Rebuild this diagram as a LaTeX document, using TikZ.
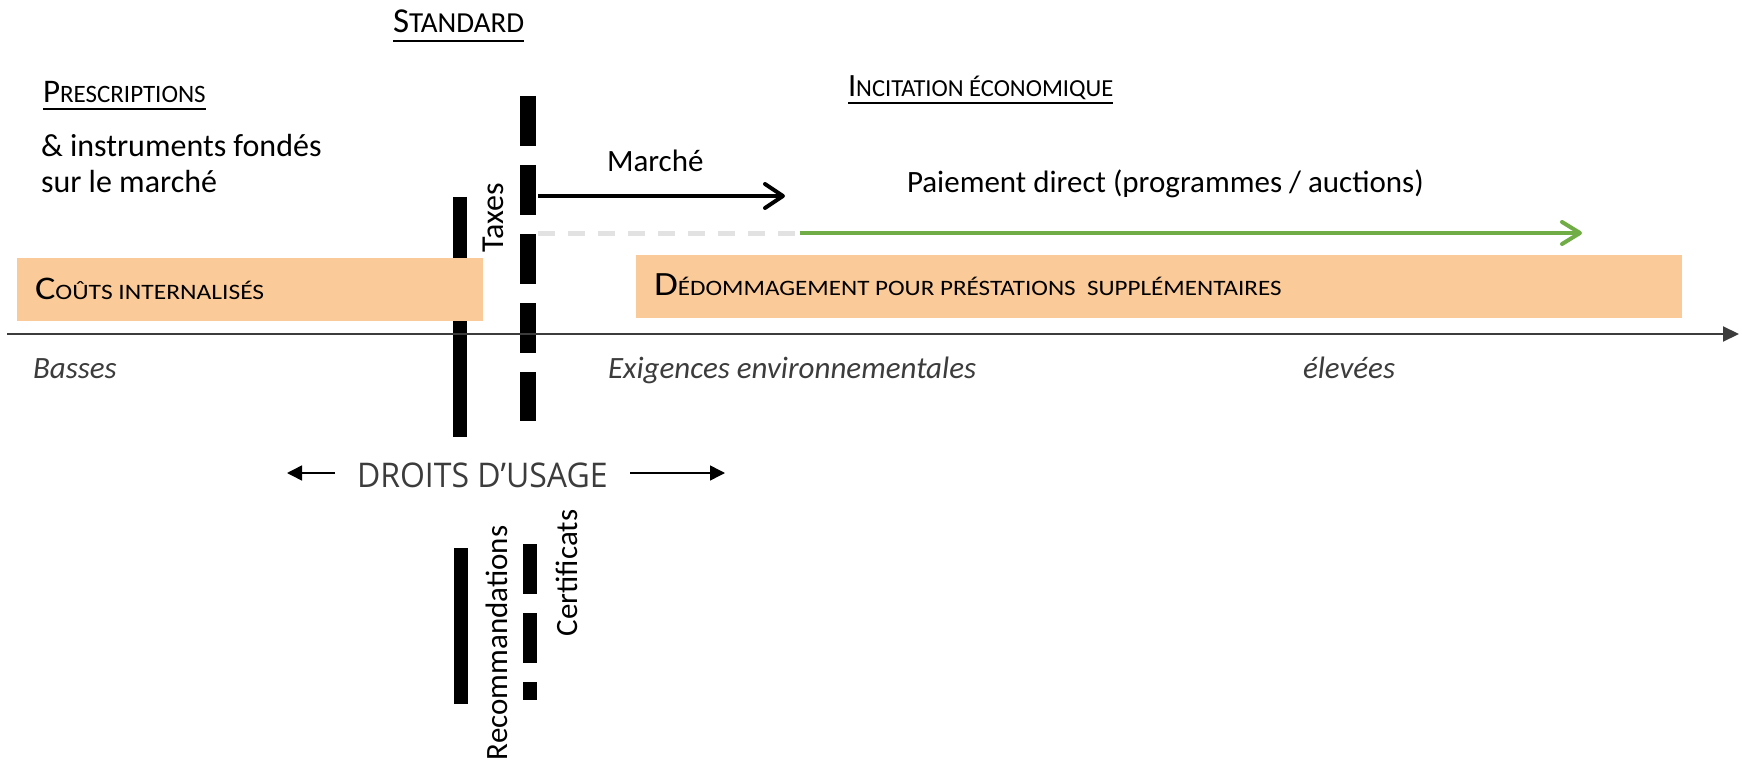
\documentclass[tikz,border=0pt]{standalone}
\usepackage{fontspec}
\setmainfont{Carlito}
\newfontfamily\osans{Open Sans}
\usetikzlibrary{arrows.meta}
\definecolor{peach}{RGB}{251,202,153}
\definecolor{grn}{RGB}{112,173,71}
\definecolor{dgray}{RGB}{60,60,60}
\definecolor{lgray}{RGB}{226,226,226}
\newcommand{\fs}[1]{\fontsize{#1}{#1}\selectfont}
\newcommand{\mysc}[4]{{\fs{#1}#3}{\fs{#2}#4}}
\begin{document}
\begin{tikzpicture}[x=1pt,y=-1pt,
  txt/.style={inner sep=0pt, outer sep=0pt, anchor=base west},
  body/.style={txt, font=\fs{31}},
  rot/.style={inner sep=0pt, outer sep=0pt, anchor=base, rotate=90, font=\fs{31}},
  ital/.style={txt, font=\fs{31}\itshape, text=dgray},
  sbox/.style={fill=peach, draw=none, inner sep=0pt, anchor=north west},
  solidbar/.style={line width=14pt},
  dashbar/.style={line width=16pt, dash pattern=on 50pt off 19pt},
  ul/.style={line width=1.6pt},
  barb/.style={line width=4pt, -{Straight Barb[length=18pt,width=24pt,round]}},
  tri/.style={line width=1.5pt, -{Triangle[length=15pt,width=15pt]}},
]
\useasboundingbox (0,0) rectangle (1742,762);

% bars
\coordinate (pbT) at (460,197); \coordinate (pbB) at (460,437);
\draw[solidbar] (pbT) -- (pbB);
\coordinate (sbT) at (527.5,96); \coordinate (sbB) at (527.5,421);
\draw[dashbar] (sbT) -- (sbB);
\coordinate (rbT) at (460.5,548); \coordinate (rbB) at (460.5,704);
\draw[solidbar] (rbT) -- (rbB);
\coordinate (cbT) at (530,544); \coordinate (cbB) at (530,700);
\draw[line width=14pt, dash pattern=on 50pt off 19pt] (cbT) -- (cbB);

% boxes
\node[sbox, minimum width=466pt, minimum height=63pt] (box1) at (17,258) {};
\node[sbox, minimum width=1046pt, minimum height=63pt] (box2) at (636,255) {};

% headings
\node[txt] (std) at (393,33) {\mysc{35}{29}{S}{TANDARD}};
\draw[ul] ([yshift=-8pt]std.base west) -- ([yshift=-8pt]std.base east);
\node[txt] (presc) at (43,103) {\mysc{33}{25}{P}{RESCRIPTIONS}};
\draw[ul] ([yshift=-6pt]presc.base west) -- ([yshift=-6pt]presc.base east);
\node[txt] (incit) at (848,97) {\mysc{32.5}{24.5}{I}{NCITATION ÉCONOMIQUE}};
\draw[ul] ([yshift=-6pt]incit.base west) -- ([yshift=-6pt]incit.base east);

\node[body, font=\fs{32}] (instr1) at (41,157) {\& instruments fondés};
\node[body, font=\fs{32}] (instr2) at (41,193) {sur le marché};

\node[body] (marche) at (607,172) {Marché};
\node[body] (paie) at (907,193) {Paiement direct (programmes / auctions)};

\node[rot, font=\fs{32}] (taxes) at (503,218) {Taxes};
\node[rot] (recom) at (507,643) {Recommandations};
\node[rot] (certif) at (577,573) {Certificats};

% box texts
\node[txt] (couts) at (35,299) {\scalebox{1.16}[1]{\mysc{33}{22}{C}{OÛTS INTERNALISÉS}}};
\node[txt] (dedom) at (654,295) {\scalebox{1.14}[1]{\mysc{34}{22}{D}{ÉDOMMAGEMENT POUR PRÉSTATIONS\hspace{5pt} SUPPLÉMENTAIRES}}};

% arrows
\coordinate (ms) at (538,196); \coordinate (me) at (785,196);
\draw[barb] (ms) -- (me);
\coordinate (gd) at (538,233); \coordinate (gs) at (800,233); \coordinate (ge) at (1582,233);
\draw[lgray, line width=5pt, dash pattern=on 17pt off 13pt] (gd) -- (gs);
\draw[barb, grn, -{Straight Barb[length=18pt,width=22pt,round]}] (gs) -- (ge);

\coordinate (ax0) at (7,334); \coordinate (ax1) at (1739,334);
\draw[dgray, line width=2pt, -{Triangle[length=16pt,width=15pt]}] (ax0) -- (ax1);

% axis labels
\node[ital] (basses) at (33,378) {Basses};
\node[ital] (exig) at (608,378) {Exigences environnementales};
\node[ital] (elev) at (1303,378) {élevées};

% droits d'usage
\node[txt, text=dgray] (droits) at (357,487) {\scalebox{0.94}[1]{\osans\fs{34}DROITS D’USAGE}};
\coordinate (dlS) at (335,473); \coordinate (dlE) at (287,473);
\coordinate (drS) at (630,473); \coordinate (drE) at (725,473);
\draw[tri] (dlS) -- (dlE);
\draw[tri] (drS) -- (drE);
\end{tikzpicture}
\end{document}
